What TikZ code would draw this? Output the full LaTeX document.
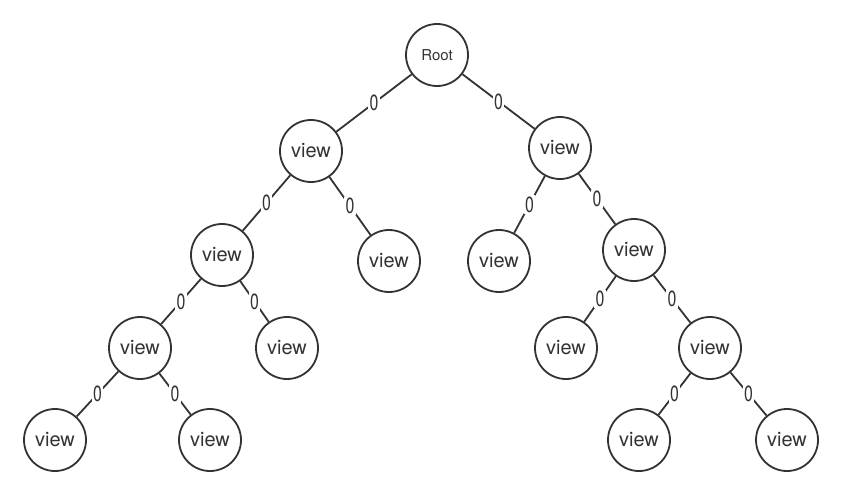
\documentclass[tikz,border=0pt]{standalone}
\usepackage{fontspec}
\setmainfont{TeX Gyre Heros}
\usepackage{graphicx}
\usetikzlibrary{positioning}
\newcommand{\lbl}{\scalebox{0.72}[1]{0}}
\tikzset{
	view/.style={shape=circle,draw=black!80,line width=1.8pt,minimum size=62pt,inner sep=0pt,text=black!80,font=\fontsize{20}{20}\selectfont},
	zero/.style={fill=white,inner sep=1.5pt,text=black!80,font=\fontsize{22}{22}\selectfont},
	branch/.style={draw=black!80,line width=1.8pt}
}
\begin{document}
\begin{tikzpicture}[x=1pt,y=-1pt]
		\useasboundingbox (0,0) rectangle (842,495);
		\begin{scope}
			\node(root) [view,font=\fontsize{15}{15}\selectfont] at (437,55) {Root};
			\node(l) [view] at (311,151) {view};
			\node(r) [view] at (560,148) {view};
			\node(ll) [view] at (222,255) {view};
			\node(lr) [view] at (389,261) {view};
			\node(rl) [view] at (499,261) {view};
			\node(rr) [view] at (634,250) {view};
			\node(lll) [view] at (140,348) {view};
			\node(llr) [view] at (287,348) {view};
			\node(rrl) [view] at (566,348) {view};
			\node(rrr) [view] at (710,348) {view};
			\node(llll) [view] at (55,440) {view};
			\node(lllr) [view] at (210,440) {view};
			\node(rrrl) [view] at (639,440) {view};
			\node(rrrr) [view] at (787,440) {view};
			\draw[branch] (root) -- node [zero] {\lbl} (l)
				  (root) -- node [zero] {\lbl} (r)
				  (l) -- node [zero] {\lbl} (ll)
				  (l) -- node [zero] {\lbl} (lr)
				  (r) -- node [zero] {\lbl} (rl)
				  (r) -- node [zero] {\lbl} (rr)
				  (ll) -- node [zero] {\lbl} (lll)
				  (ll) -- node [zero] {\lbl} (llr)
				  (rr) -- node [zero] {\lbl} (rrl)
				  (rr) -- node [zero] {\lbl} (rrr)
				  (lll) -- node [zero] {\lbl} (llll)
				  (lll) -- node [zero] {\lbl} (lllr)
				  (rrr) -- node [zero] {\lbl} (rrrl)
				  (rrr) -- node [zero] {\lbl} (rrrr);
		\end{scope}
	\end{tikzpicture}
\end{document}
